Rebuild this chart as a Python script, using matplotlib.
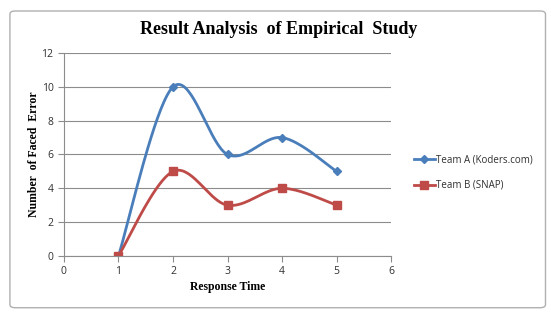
import numpy as np
import matplotlib
matplotlib.use("Agg")
import matplotlib.pyplot as plt
from matplotlib.patches import FancyBboxPatch
from matplotlib.lines import Line2D

x_vals = [1, 2, 3, 4, 5]
team_a = [0, 10, 6, 7, 5]
team_b = [0, 5, 3, 4, 3]
labels = ["Team A (Koders.com)", "Team B (SNAP)"]
title = "Result Analysis  of Empirical  Study"
xlabel = "Response Time"
ylabel = "Number  of Faced  Error"
xticks = [0, 1, 2, 3, 4, 5, 6]
yticks = [0, 2, 4, 6, 8, 10, 12]


def smooth(xs, ys, n=40):
    xs = np.asarray(xs, float); ys = np.asarray(ys, float)
    px = np.concatenate([[xs[0]], xs, [xs[-1]]])
    py = np.concatenate([[ys[0]], ys, [ys[-1]]])
    ox, oy = [], []
    for i in range(1, len(px) - 2):
        p0 = np.array([px[i-1], py[i-1]]); p1 = np.array([px[i], py[i]])
        p2 = np.array([px[i+1], py[i+1]]); p3 = np.array([px[i+2], py[i+2]])
        c1 = p1 + (p2 - p0) / 6.0
        c2 = p2 - (p3 - p1) / 6.0
        t = np.linspace(0, 1, n)[:, None]
        b = (1-t)**3*p1 + 3*(1-t)**2*t*c1 + 3*(1-t)*t**2*c2 + t**3*p2
        ox.extend(b[:, 0]); oy.extend(b[:, 1])
    return np.array(ox), np.array(oy)


fig = plt.figure(figsize=(5.51, 3.14), dpi=100)
fig.patch.set_facecolor("white")
frame = FancyBboxPatch((0.018, 0.02), 0.972, 0.945, boxstyle="round,pad=0,rounding_size=0.01",
                       transform=fig.transFigure, fill=False, edgecolor="#b0b0b0", lw=1.0)
fig.patches.append(frame)

ax = fig.add_axes([0.116, 0.185, 0.594, 0.646])
blue = "#4A7EBB"; red = "#BE4B48"
sx, sy = smooth(x_vals, team_a)
ax.plot(sx, sy, color=blue, lw=2.0)
ax.plot(x_vals, team_a, ls="none", marker="D", ms=4, color=blue)
sx, sy = smooth(x_vals, team_b)
ax.plot(sx, sy, color=red, lw=2.0)
ax.plot(x_vals, team_b, ls="none", marker="s", ms=6, color=red)

ax.set_xlim(0, 6); ax.set_ylim(0, 12)
ax.set_xticks(xticks); ax.set_yticks(yticks)
ax.grid(axis="y", color="#8c8c8c", lw=0.8)
ax.set_axisbelow(True)
for s in ["top", "right"]:
    ax.spines[s].set_visible(False)
for s in ["left", "bottom"]:
    ax.spines[s].set_color("#8c8c8c")
ax.tick_params(colors="#8c8c8c", labelcolor="#303030", labelsize=7.5, length=4)
for t in ax.get_xticklabels() + ax.get_yticklabels():
    t.set_family("Open Sans")

ax.set_xlabel(xlabel, family="Liberation Serif", weight="bold", fontsize=8.5, labelpad=3)
ax.set_ylabel(ylabel, family="Liberation Serif", weight="bold", fontsize=8.5, labelpad=1)
fig.text(0.505, 0.905, title, ha="center", va="center", family="Liberation Serif",
         weight="bold", fontsize=13)

handles = [Line2D([], [], color=blue, marker="D", ms=4, lw=2),
           Line2D([], [], color=red, marker="s", ms=6, lw=2)]
leg = fig.legend(handles, labels, loc="center left", bbox_to_anchor=(0.735, 0.45),
                 frameon=False, handlelength=2.2, handletextpad=0.1,
                 labelspacing=1.5, prop={"family": "Open Sans", "size": 7})
for t in leg.get_texts():
    t.set_color("#303030")

fig.savefig("out.png", dpi=100)
